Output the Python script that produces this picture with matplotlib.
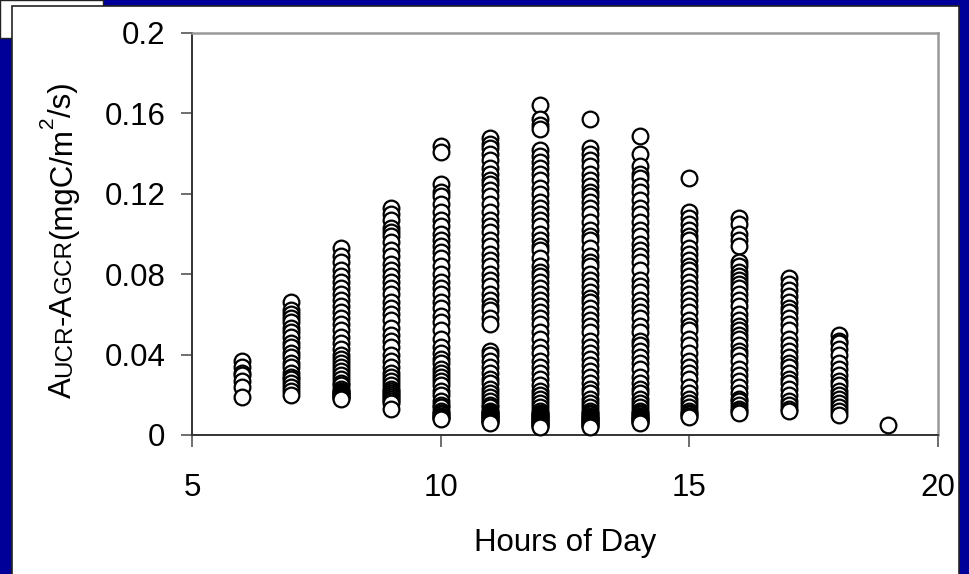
import matplotlib
matplotlib.use("Agg")
import matplotlib.pyplot as plt
from matplotlib.patches import Rectangle

plt.rcParams['font.family'] = ['Liberation Sans', 'DejaVu Sans']

# A(UCR) - A(GCR) per hour of day, mgC/m2/s
hours = [6, 7, 8, 9, 10, 11, 12, 13, 14, 15, 16, 17, 18, 19]

h06 = [0.037, 0.034, 0.031, 0.030, 0.027, 0.024, 0.019]
h07 = [0.066, 0.062, 0.060, 0.058, 0.056, 0.053, 0.051, 0.049, 0.046, 0.044,
       0.041, 0.039, 0.036, 0.034, 0.031, 0.029, 0.028, 0.026, 0.024, 0.022, 0.020]
h08 = [0.093, 0.089, 0.086, 0.082, 0.079, 0.076, 0.073, 0.070, 0.067, 0.064,
       0.061, 0.058, 0.055, 0.052, 0.049, 0.046, 0.043, 0.040, 0.038, 0.036,
       0.034, 0.032, 0.030, 0.028, 0.026, 0.025, 0.023, 0.022, 0.021, 0.020,
       0.019, 0.018, 0.0185, 0.0195, 0.0205, 0.0215]
h09 = [0.113, 0.110, 0.107, 0.103, 0.101, 0.099, 0.096, 0.092, 0.089, 0.085,
       0.082, 0.079, 0.076, 0.073, 0.070, 0.066, 0.063, 0.060, 0.057, 0.053,
       0.050, 0.047, 0.044, 0.040, 0.037, 0.034, 0.031, 0.029, 0.027, 0.025,
       0.023, 0.021, 0.019, 0.017, 0.013, 0.016, 0.018, 0.020, 0.022]
h10 = [0.144, 0.141, 0.125, 0.121, 0.119, 0.115, 0.111, 0.107, 0.104, 0.100,
       0.097, 0.094, 0.091, 0.088, 0.084, 0.080, 0.076, 0.073, 0.070, 0.066,
       0.063, 0.059, 0.056, 0.052, 0.048, 0.044, 0.041, 0.038, 0.036, 0.033,
       0.031, 0.029, 0.027, 0.025, 0.022, 0.020, 0.017, 0.015, 0.014, 0.012,
       0.011, 0.009, 0.008, 0.0085, 0.0095, 0.0105]
h11 = [0.148, 0.145, 0.143, 0.140, 0.137, 0.133, 0.130, 0.127, 0.125, 0.122,
       0.119, 0.115, 0.111, 0.107, 0.104, 0.101, 0.097, 0.094, 0.090, 0.087,
       0.084, 0.080, 0.077, 0.074, 0.070, 0.067, 0.064, 0.062, 0.058, 0.055,
       0.042, 0.040, 0.037, 0.034, 0.031, 0.028, 0.026, 0.023, 0.021, 0.019,
       0.017, 0.015, 0.014, 0.012, 0.011, 0.010, 0.009, 0.008, 0.007, 0.006,
       0.0065, 0.0075, 0.0085, 0.0095, 0.0105, 0.0115]
h12 = [0.164, 0.157, 0.154, 0.152, 0.142, 0.139, 0.136, 0.133, 0.130, 0.127,
       0.123, 0.120, 0.116, 0.113, 0.110, 0.107, 0.104, 0.100, 0.097, 0.094,
       0.092, 0.088, 0.084, 0.081, 0.079, 0.076, 0.073, 0.070, 0.067, 0.064,
       0.061, 0.058, 0.055, 0.051, 0.048, 0.044, 0.041, 0.037, 0.034, 0.031,
       0.028, 0.025, 0.022, 0.020, 0.018, 0.016, 0.014, 0.012, 0.011, 0.010,
       0.009, 0.008, 0.007, 0.006, 0.005, 0.004, 0.0045, 0.0055, 0.0065,
       0.0075, 0.0085, 0.0095, 0.0105]
h13 = [0.157, 0.143, 0.140, 0.137, 0.134, 0.130, 0.127, 0.124, 0.121, 0.119,
       0.116, 0.113, 0.110, 0.106, 0.102, 0.099, 0.097, 0.093, 0.089, 0.086,
       0.084, 0.080, 0.077, 0.074, 0.071, 0.068, 0.066, 0.063, 0.060, 0.057,
       0.054, 0.051, 0.047, 0.044, 0.041, 0.038, 0.035, 0.032, 0.029, 0.026,
       0.023, 0.021, 0.018, 0.016, 0.014, 0.012, 0.011, 0.009, 0.008, 0.007,
       0.006, 0.005, 0.004, 0.0045, 0.0055, 0.0065, 0.0075, 0.0085, 0.0095,
       0.0105]
h14 = [0.149, 0.140, 0.134, 0.130, 0.128, 0.124, 0.121, 0.117, 0.113, 0.110,
       0.106, 0.102, 0.099, 0.095, 0.092, 0.089, 0.086, 0.082, 0.077, 0.074,
       0.071, 0.067, 0.064, 0.061, 0.058, 0.054, 0.051, 0.047, 0.045, 0.042,
       0.039, 0.036, 0.033, 0.029, 0.026, 0.023, 0.021, 0.018, 0.016, 0.014,
       0.012, 0.011, 0.009, 0.008, 0.007, 0.006, 0.0065, 0.0075, 0.0085,
       0.0095, 0.0105]
h15 = [0.128, 0.111, 0.108, 0.105, 0.102, 0.099, 0.097, 0.093, 0.090, 0.087,
       0.084, 0.082, 0.079, 0.076, 0.073, 0.070, 0.067, 0.064, 0.061, 0.057,
       0.054, 0.052, 0.048, 0.045, 0.041, 0.037, 0.034, 0.031, 0.028, 0.024,
       0.021, 0.018, 0.016, 0.014, 0.012, 0.011, 0.009, 0.0095, 0.0105]
h16 = [0.108, 0.105, 0.100, 0.097, 0.094, 0.086, 0.084, 0.081, 0.079, 0.077,
       0.075, 0.073, 0.070, 0.067, 0.064, 0.060, 0.057, 0.054, 0.052, 0.050,
       0.048, 0.045, 0.042, 0.040, 0.037, 0.033, 0.030, 0.027, 0.024, 0.021,
       0.018, 0.017, 0.015, 0.013, 0.012, 0.011]
h17 = [0.078, 0.075, 0.072, 0.069, 0.066, 0.063, 0.061, 0.058, 0.055, 0.052,
       0.048, 0.045, 0.042, 0.039, 0.036, 0.034, 0.031, 0.028, 0.026, 0.023,
       0.020, 0.017, 0.015, 0.013, 0.012]
h18 = [0.050, 0.047, 0.046, 0.043, 0.040, 0.036, 0.033, 0.030, 0.027, 0.025,
       0.022, 0.020, 0.018, 0.016, 0.014, 0.012, 0.010]
h19 = [0.005]

by_hour = [h06, h07, h08, h09, h10, h11, h12, h13, h14, h15, h16, h17, h18, h19]

x_ticks = [5, 10, 15, 20]
y_ticks = [0, 0.04, 0.08, 0.12, 0.16, 0.2]
y_tick_labels = ['0', '0.04', '0.08', '0.12', '0.16', '0.2']

W, H = 969, 574
fig = plt.figure(figsize=(W / 100, H / 100), dpi=100, facecolor='#000099')

# white tab in the top-left corner, then the slide panel over it
fig.add_artist(Rectangle((0, 1 - 38 / H), 103 / W, 38 / H, transform=fig.transFigure,
                         facecolor='white', edgecolor='#222222', linewidth=1, zorder=-2))
fig.add_artist(Rectangle((12 / W, -0.01), (959 - 12) / W, (H - 6) / H + 0.01,
                         transform=fig.transFigure, facecolor='white',
                         edgecolor='#222222', linewidth=1.2, zorder=-1))

ax = fig.add_axes([192 / W, 1 - 435 / H, (938 - 192) / W, (435 - 33) / H])
ax.set_facecolor('white')

# top of each column first, so the lower circles sit on top
for h, vals in zip(hours, by_hour):
    vals = sorted(vals, reverse=True)
    ax.scatter([h] * len(vals), vals, s=128, facecolors='white',
               edgecolors='black', linewidths=1.6, zorder=3, clip_on=False)

ax.set_xlim(5, 20)
ax.set_ylim(0, 0.2)
ax.set_xticks(x_ticks)
ax.set_xticklabels([str(t) for t in x_ticks])
ax.set_yticks(y_ticks)
ax.set_yticklabels(y_tick_labels)

for side in ['left', 'bottom']:
    ax.spines[side].set_color('#333333')
    ax.spines[side].set_linewidth(1.4)
for side in ['top', 'right']:
    ax.spines[side].set_color('#999999')
    ax.spines[side].set_linewidth(1.8)

ax.tick_params(axis='x', labelsize=22.5, direction='out', length=8.5, width=1.2,
               color='#555555', pad=19)
ax.tick_params(axis='y', labelsize=22.5, direction='out', length=8, width=1.2,
               color='#555555', pad=11)

ax.set_xlabel('Hours of Day', fontsize=22.5, labelpad=18)

# y label with small-caps subscripts and a superscript, built piece by piece
pieces = [('A', 22.5, 0), ('UCR', 17.5, 0), ('-A', 22.5, 0), ('GCR', 17.5, 0),
          ('(mgC/m', 22.5, 0), ('2', 15, 18), ('/s)', 22.5, 0)]
renderer = fig.canvas.get_renderer()
label_texts = []
for s, size, rise in pieces:
    t = fig.text(0, 0, s, fontsize=size, rotation=90, rotation_mode='anchor',
                 ha='left', va='baseline', transform=None)
    label_texts.append((t, rise))

y_pos = H - 398
base_x = 71
for t, rise in label_texts:
    length = t.get_window_extent(renderer).height
    t.set_position((base_x - rise, y_pos))
    y_pos += length

fig.savefig('out.png', dpi=100, facecolor=fig.get_facecolor())
